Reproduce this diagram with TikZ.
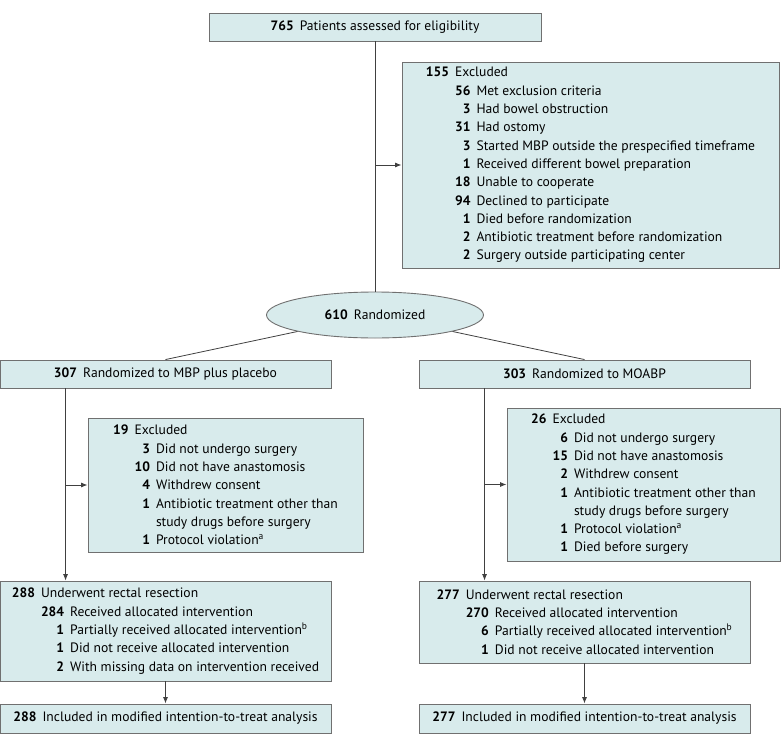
\documentclass[tikz,border=0pt]{standalone}
\usepackage{fontspec}
\setmainfont{PT Sans}
\usepackage{tikz}
\usetikzlibrary{positioning,arrows.meta,shapes.geometric}

\definecolor{boxfill}{HTML}{D8EBEC}
\definecolor{boxline}{HTML}{707070}
\definecolor{wire}{HTML}{404040}

\newcommand{\nb}[2]{\hphantom{\textbf{#1}}\llap{\textbf{#2}}\hspace{6pt}}
\newcommand{\ind}[1]{\hphantom{\textbf{#1}\hspace{6pt}}}

\begin{document}
\begin{tikzpicture}[
  x=1pt, y=-1pt,
  every node/.style={font=\fontsize{13.6}{18.3}\selectfont},
  box/.style={draw=boxline, fill=boxfill, line width=0.9pt, inner sep=0pt, align=left},
  lin/.style={draw=wire, line width=0.8pt},
  arr/.style={lin, -{Latex[length=6.5pt,width=5pt]}}
]
\useasboundingbox (0,0) rectangle (783,746);
\node[box, minimum width=332pt, minimum height=28pt] (elig) at (375,27) {\textbf{765}\hspace{6pt}Patients assessed for eligibility};
\node[box, minimum width=377pt, minimum height=206pt] (excl) at (590.5,165) {\nb{155}{155}Excluded\\
\ind{155}\nb{00}{56}Met exclusion criteria\\
\ind{155}\nb{00}{3}Had bowel obstruction\\
\ind{155}\nb{00}{31}Had ostomy\\
\ind{155}\nb{00}{3}Started MBP outside the prespecified timeframe\\
\ind{155}\nb{00}{1}Received different bowel preparation\\
\ind{155}\nb{00}{18}Unable to cooperate\\
\ind{155}\nb{00}{94}Declined to participate\\
\ind{155}\nb{00}{1}Died before randomization\\
\ind{155}\nb{00}{2}Antibiotic treatment before randomization\\
\ind{155}\nb{00}{2}Surgery outside participating center};
\node[box, ellipse, minimum width=217pt, minimum height=46pt] (rand) at (375,315) {\textbf{610}\hspace{6pt}Randomized};
\node[box, minimum width=331pt, minimum height=28pt] (armA) at (165.5,374) {\textbf{307}\hspace{6pt}Randomized to MBP plus placebo};
\node[box, minimum width=331pt, minimum height=28pt] (armB) at (584.5,374) {\textbf{303}\hspace{6pt}Randomized to MOABP};
\node[box, minimum width=275pt, minimum height=134pt] (exA) at (225.5,485) {\nb{00}{19}Excluded\\
\ind{00}\nb{00}{3}Did not undergo surgery\\
\ind{00}\nb{00}{10}Did not have anastomosis\\
\ind{00}\nb{00}{4}Withdrew consent\\
\ind{00}\nb{00}{1}Antibiotic treatment other than\\
\ind{00}\ind{00}study drugs before surgery\\
\ind{00}\nb{00}{1}Protocol violation\textsuperscript{a}};
\node[box, minimum width=273pt, minimum height=153pt] (exB) at (643.5,484.5) {\nb{00}{26}Excluded\\
\ind{00}\nb{00}{6}Did not undergo surgery\\
\ind{00}\nb{00}{15}Did not have anastomosis\\
\ind{00}\nb{00}{2}Withdrew consent\\
\ind{00}\nb{00}{1}Antibiotic treatment other than\\
\ind{00}\ind{00}study drugs before surgery\\
\ind{00}\nb{00}{1}Protocol violation\textsuperscript{a}\\
\ind{00}\nb{00}{1}Died before surgery};
\node[box, minimum width=331pt, minimum height=100pt] (resA) at (165.5,631) {\nb{000}{288}Underwent rectal resection\\
\ind{000}\nb{000}{284}Received allocated intervention\\
\ind{000}\nb{000}{1}Partially received allocated intervention\textsuperscript{b}\\
\ind{000}\nb{000}{1}Did not receive allocated intervention\\
\ind{000}\nb{000}{2}With missing data on intervention received};
\node[box, minimum width=331pt, minimum height=82pt] (resB) at (584.5,622) {\nb{000}{277}Underwent rectal resection\\
\ind{000}\nb{000}{270}Received allocated intervention\\
\ind{000}\nb{000}{6}Partially received allocated intervention\textsuperscript{b}\\
\ind{000}\nb{000}{1}Did not receive allocated intervention};
\node[box, minimum width=331pt, minimum height=29pt] (itA) at (165.5,718.5) {\textbf{288}\hspace{6pt}Included in modified intention-to-treat analysis};
\node[box, minimum width=331pt, minimum height=29pt] (itB) at (584.5,718.5) {\textbf{277}\hspace{6pt}Included in modified intention-to-treat analysis};
\coordinate (jA) at ([xshift=66pt]armA.south west);
\coordinate (jB) at ([xshift=66pt]armB.south west);
\draw[lin] (elig) -- (rand);
\draw[arr] (elig.south |- excl.west) -- (excl.west);
\draw[lin] (rand) -- (armA.north);
\draw[lin] (rand) -- (armB.north);
\draw[arr] (jA) -- (jA |- resA.north);
\draw[arr] (jA |- exA.west) -- (exA.west);
\draw[arr] (jB) -- (jB |- resB.north);
\draw[arr] (jB |- exB.west) -- (exB.west);
\draw[arr] (resA) -- (itA);
\draw[arr] (resB) -- (itB);
\end{tikzpicture}
\end{document}
